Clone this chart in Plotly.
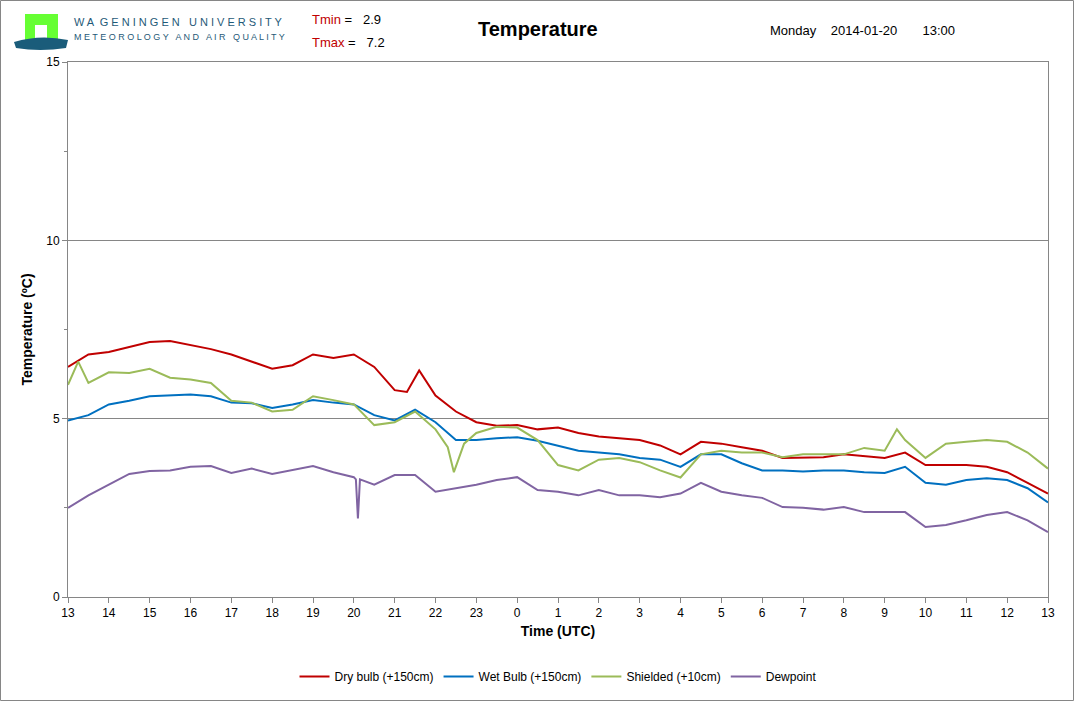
import plotly.graph_objects as go

hours = [i*0.5 for i in range(49)]
tick_labels = ["13","14","15","16","17","18","19","20","21","22","23","0","1","2","3","4","5","6","7","8","9","10","11","12","13"]

dry_x = hours[:17] + [8.3, 8.6] + hours[18:]
dry = [6.45,6.8,6.87,7.0,7.15,7.18,7.07,6.95,6.8,6.6,6.4,6.5,6.8,6.7,6.8,6.45,5.8,5.75,6.35,
       5.65,5.2,4.9,4.8,4.82,4.7,4.75,4.6,4.5,4.45,4.4,4.25,4.0,4.35,4.3,4.2,4.1,3.9,3.9,
       3.92,4.0,3.95,3.9,4.05,3.7,3.7,3.7,3.65,3.5,3.2,2.9]

wet_x = hours
wet = [4.95,5.1,5.4,5.5,5.63,5.65,5.68,5.63,5.45,5.43,5.3,5.4,5.52,5.45,5.4,5.1,4.95,5.25,4.9,4.4,
       4.4,4.45,4.48,4.38,4.25,4.1,4.05,4.0,3.9,3.85,3.65,4.0,4.0,3.75,3.55,3.55,3.52,3.55,3.55,3.5,
       3.48,3.65,3.2,3.15,3.28,3.33,3.28,3.05,2.65]

sh_x = [0, 0.25] + hours[1:19] + [9.3, 9.45, 9.7] + hours[20:41] + [20.3] + hours[41:]
shielded = [5.95,6.6,6.0,6.3,6.28,6.4,6.15,6.1,6.0,5.5,5.45,5.2,5.25,5.63,5.52,5.4,4.82,4.9,5.2,4.7,
            4.2,3.5,4.3,4.6,4.77,4.75,4.4,3.7,3.55,3.85,3.9,3.78,3.55,3.35,4.0,4.1,4.05,4.05,3.92,4.0,
            4.0,4.0,4.18,4.1,4.7,4.4,3.9,4.3,4.35,4.4,4.35,4.05,3.6]

dew_x = hours[:15] + [7.05, 7.1, 7.15] + hours[15:]
dew = [2.5,2.85,3.15,3.45,3.53,3.55,3.65,3.67,3.48,3.6,3.45,3.55,3.67,3.5,3.36,3.3,2.2,3.3,3.15,3.42,
       3.42,2.95,3.05,3.15,3.28,3.36,3.0,2.95,2.85,3.0,2.85,2.85,2.8,2.9,3.2,2.95,2.85,2.78,2.52,2.5,
       2.45,2.52,2.38,2.38,2.38,1.96,2.02,2.15,2.3,2.38,2.15,1.82]

fig = go.Figure()
for name, xs, ys, col in [("Dry bulb (+150cm)", dry_x, dry, "#c00000"),
                          ("Wet Bulb (+150cm)", wet_x, wet, "#0070c0"),
                          ("Shielded (+10cm)", sh_x, shielded, "#9bbb59"),
                          ("Dewpoint", dew_x, dew, "#8064a2")]:
    fig.add_trace(go.Scatter(x=xs, y=ys, mode="lines", name=name, line=dict(color=col, width=2)))

H = 535
def py(px):  # paper y from pixel y
    return 1 + (62 - px) / H
def pxx(px):
    return (px - 68) / 980

fig.update_layout(
    width=1074, height=710, paper_bgcolor="white", plot_bgcolor="white",
    margin=dict(l=68, r=26, t=62, b=113),
    font=dict(family="Liberation Sans, Arial", size=12, color="black"),
    legend=dict(orientation="h", x=0.5, xanchor="center", y=py(662), yanchor="top", font=dict(size=12)),
    xaxis=dict(range=[0,24], tickvals=list(range(25)), ticktext=tick_labels, showgrid=False,
               showline=True, linecolor="#868686", mirror=True, ticks="outside", ticklen=5, tickcolor="#868686",
               title=dict(text="<b>Time (UTC)</b>", standoff=6), zeroline=False),
    yaxis=dict(range=[0,15], tickvals=[0,5,10,15], showgrid=True, gridcolor="#868686",
               showline=True, linecolor="#868686", mirror=True, ticks="outside", ticklen=5, tickcolor="#868686",
               minor=dict(dtick=2.5, ticks="outside", ticklen=3, tickcolor="#868686", showgrid=False),
               title=dict(text="<b>Temperature (ºC)</b>", standoff=10), zeroline=False),
    shapes=[
        dict(type="rect", xref="paper", yref="paper", x0=pxx(0.5), x1=pxx(1073.5), y0=py(700.5), y1=py(0.5),
             line=dict(color="#868686", width=1)),
        dict(type="rect", xref="paper", yref="paper", x0=pxx(25), x1=pxx(58), y0=py(40), y1=py(14),
             fillcolor="#66ff33", line=dict(width=0)),
        dict(type="rect", xref="paper", yref="paper", x0=pxx(35), x1=pxx(47), y0=py(40), y1=py(25),
             fillcolor="white", line=dict(width=0)),
        dict(type="path", xref="paper", yref="paper",
             path=f"M {pxx(14)},{py(42)} Q {pxx(40)},{py(34)} {pxx(68)},{py(40)} L {pxx(66)},{py(48)} Q {pxx(40)},{py(52)} {pxx(16)},{py(48)} Z",
             fillcolor="#1a5c7a", line=dict(width=0)),
    ],
    annotations=[
        dict(text="W A  G E N I N G E N   U N I V E R S I T Y", x=pxx(72), xref="paper", yref="paper", y=py(22),
             showarrow=False, xanchor="left", yanchor="middle", font=dict(size=11, color="#1f5a78")),
        dict(text="M E T E O R O L O G Y   A N D   A I R   Q U A L I T Y", x=pxx(72), xref="paper", yref="paper", y=py(37),
             showarrow=False, xanchor="left", yanchor="middle", font=dict(size=9, color="#1f5a78")),
        dict(text="<span style='color:#c00000'>Tmin</span> =   2.9", x=pxx(310), xref="paper", yref="paper", y=py(20),
             showarrow=False, xanchor="left", yanchor="middle", font=dict(size=13)),
        dict(text="<span style='color:#c00000'>Tmax</span> =   7.2", x=pxx(310), xref="paper", yref="paper", y=py(42),
             showarrow=False, xanchor="left", yanchor="middle", font=dict(size=13)),
        dict(text="<b>Temperature</b>", x=pxx(538), xref="paper", yref="paper", y=py(29),
             showarrow=False, xanchor="center", yanchor="middle", font=dict(size=20)),
        dict(text="Monday    2014-01-20       13:00", x=pxx(768), xref="paper", yref="paper", y=py(31),
             showarrow=False, xanchor="left", yanchor="middle", font=dict(size=13)),
    ],
)
fig.write_html("out.html", config={"displayModeBar": False})
with open("out.html", encoding="utf-8") as f:
    html = f.read()
html = html.replace("<head>", "<head><style>html,body{margin:0;padding:0;overflow:hidden}</style>", 1)
with open("out.html", "w", encoding="utf-8") as f:
    f.write(html)
